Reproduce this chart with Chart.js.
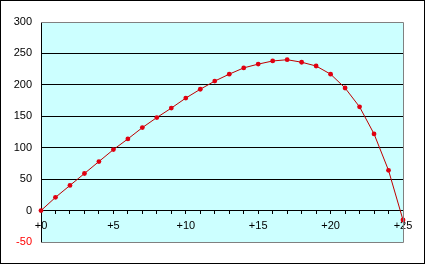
<!DOCTYPE html>
<html>
<head>
<meta charset="utf-8">
<script src="https://cdn.jsdelivr.net/npm/chart.js@4"></script>
<style>
  html, body { margin: 0; padding: 0; background: #fff; }
  #wrap { width: 425px; height: 264px; }
</style>
</head>
<body>
<div id="wrap"><canvas id="chart" width="425" height="264"></canvas></div>
<script>
// x categories 0..25
const xValues = [0, 1, 2, 3, 4, 5, 6, 7, 8, 9, 10, 11, 12, 13, 14, 15, 16, 17, 18, 19, 20, 21, 22, 23, 24, 25];
const yValues = [0, 21, 40, 59, 78, 97, 114, 132, 148, 163, 179, 193, 206, 217, 227, 233, 238, 240, 236, 230, 217, 195, 165, 122, 64, -15];
const yMin = -50;
const yMax = 300;
const yStep = 50;
const xLabelEvery = 5;

// background of the plot + frames
const frames = {
  id: "frames",
  beforeDraw(chart) {
    const { ctx, chartArea: a } = chart;
    ctx.save();
    ctx.fillStyle = "#fff";
    ctx.fillRect(0, 0, chart.width, chart.height);
    ctx.fillStyle = "#ccffff";
    ctx.fillRect(a.left, a.top, a.right - a.left, a.bottom - a.top);
    ctx.strokeStyle = "#000";
    ctx.lineWidth = 1;
    ctx.strokeRect(0.5, 0.5, chart.width - 1, chart.height - 1);
    ctx.restore();
  },
  afterDatasetsDraw(chart) {
    const { ctx, chartArea: a } = chart;
    ctx.save();
    ctx.strokeStyle = "#808080";
    ctx.lineWidth = 1;
    ctx.beginPath();
    ctx.moveTo(a.left, Math.round(a.top) + 0.5);
    ctx.lineTo(Math.round(a.right) + 0.5, Math.round(a.top) + 0.5);
    ctx.lineTo(Math.round(a.right) + 0.5, Math.round(a.bottom) + 0.5);
    ctx.lineTo(a.left, Math.round(a.bottom) + 0.5);
    ctx.stroke();
    ctx.restore();
  }
};

new Chart(document.getElementById("chart"), {
  type: "line",
  data: {
    datasets: [{
      data: xValues.map((x, i) => ({ x: x, y: yValues[i] })),
      borderColor: "#c00000",
      borderWidth: 1,
      backgroundColor: "#e00010",
      pointBackgroundColor: "#e00010",
      pointBorderWidth: 0,
      pointRadius: 2.4,
      tension: 0,
      clip: false
    }]
  },
  options: {
    responsive: false,
    animation: false,
    layout: { padding: { top: 22, right: 22, bottom: 22, left: 0 } },
    plugins: { legend: { display: false }, tooltip: { enabled: false } },
    scales: {
      x: {
        type: "linear",
        position: { y: 0 },
        min: 0,
        max: 25,
        ticks: {
          stepSize: 1,
          autoSkip: false,
          maxRotation: 0,
          padding: 6,
          color: "#000",
          font: { family: "Liberation Sans", size: 11 },
          callback: v => (v % xLabelEvery === 0 ? "+" + v : "")
        },
        grid: { drawOnChartArea: false, drawTicks: true, tickLength: 3, color: "#000" },
        border: { color: "#000", width: 1 }
      },
      y: {
        min: yMin,
        max: yMax,
        afterFit(scale) { scale.width = 41; },
        ticks: {
          stepSize: yStep,
          padding: 9,
          font: { family: "Liberation Sans", size: 11 },
          color: ctx => (ctx.tick.value < 0 ? "#ff0000" : "#000")
        },
        grid: {
          drawTicks: false,
          color: ctx => (ctx.tick.value === yMax || ctx.tick.value === yMin ? "rgba(0,0,0,0)" : "#000")
        },
        border: { color: "#000", width: 1 }
      }
    }
  },
  plugins: [frames]
});
</script>
</body>
</html>
